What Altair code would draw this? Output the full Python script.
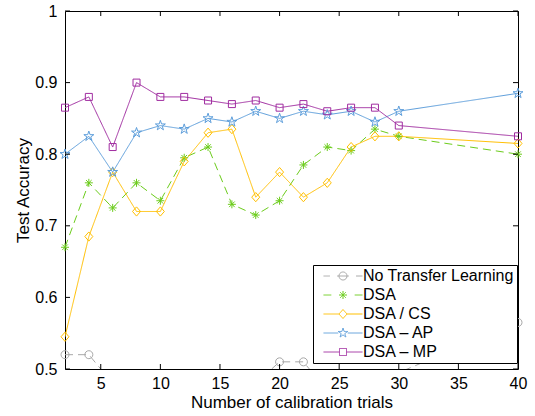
import altair as alt
import pandas as pd

# ---------------- data ----------------
trials = [2, 4, 6, 8, 10, 12, 14, 16, 18, 20, 22, 24, 26, 28, 30, 40]
no_transfer = [0.52, 0.52, 0.48, 0.46, 0.45, 0.46, 0.47, 0.47, 0.48, 0.51, 0.51, 0.47, 0.48, 0.47, 0.495, 0.565]
dsa = [0.67, 0.76, 0.725, 0.76, 0.735, 0.795, 0.81, 0.73, 0.715, 0.735, 0.785, 0.81, 0.805, 0.835, 0.825, 0.80]
dsa_cs = [0.545, 0.685, 0.775, 0.72, 0.72, 0.79, 0.83, 0.835, 0.74, 0.775, 0.74, 0.76, 0.81, 0.825, 0.825, 0.815]
dsa_ap = [0.80, 0.825, 0.775, 0.83, 0.84, 0.835, 0.85, 0.845, 0.86, 0.85, 0.86, 0.855, 0.86, 0.845, 0.86, 0.885]
dsa_mp = [0.865, 0.88, 0.81, 0.90, 0.88, 0.88, 0.875, 0.87, 0.875, 0.865, 0.87, 0.86, 0.865, 0.865, 0.84, 0.825]

series_names = ["No Transfer Learning", "DSA", "DSA / CS", "DSA \u2013 AP", "DSA \u2013 MP"]
series_values = [no_transfer, dsa, dsa_cs, dsa_ap, dsa_mp]
colors = ["#a8a8a8", "#6ccc1c", "#ffbf00", "#5d9edb", "#a02ca0"]
dashes = [[8, 5], [8, 5], [1, 0], [1, 0], [1, 0]]

x_ticks = [5, 10, 15, 20, 25, 30, 35, 40]
y_ticks = [0.5, 0.6, 0.7, 0.8, 0.9, 1.0]

# marker shapes (unit paths)
circle_p = "M1,0A1,1,0,1,1,-1,0A1,1,0,1,1,1,0Z"
aster_p = "M-1,0L1,0M0,-1L0,1M-0.7,-0.7L0.7,0.7M-0.7,0.7L0.7,-0.7"
diamond_p = "M0,-1.15L1,0L0,1.15L-1,0Z"
star_p = ("M0,-1L0.225,-0.309L0.951,-0.309L0.363,0.118L0.588,0.809L0,0.382"
          "L-0.588,0.809L-0.363,0.118L-0.951,-0.309L-0.225,-0.309Z")
square_p = "M-1,-1L1,-1L1,1L-1,1Z"
marker_paths = [circle_p, aster_p, diamond_p, star_p, square_p]
marker_sizes = [64, 64, 64, 110, 49]

# legend symbols: line segment + marker (unit = 4.5px)
L = 4.33
legend_paths = [
    f"M{-L},0L-2.9,0M-1.3,0L1.3,0M2.9,0L{L},0"
    "M0.89,0A0.89,0.89,0,1,1,-0.89,0A0.89,0.89,0,1,1,0.89,0Z",
    f"M{-L},0L-2.6,0M2.6,0L{L},0"
    "M-0.89,0L0.89,0M0,-0.89L0,0.89M-0.63,-0.63L0.63,0.63M-0.63,0.63L0.63,-0.63",
    f"M{-L},0L-0.89,0M0.89,0L{L},0M0,-1.0L0.89,0L0,1.0L-0.89,0Z",
    f"M{-L},0L-1.05,0M1.05,0L{L},0"
    "M0,-1.11L0.25,-0.343L1.056,-0.343L0.403,0.131L0.653,0.898L0,0.424"
    "L-0.653,0.898L-0.403,0.131L-1.056,-0.343L-0.25,-0.343Z",
    f"M{-L},0L-0.78,0M0.78,0L{L},0M-0.78,-0.78L0.78,-0.78L0.78,0.78L-0.78,0.78Z",
]

rows = []
for name, vals in zip(series_names, series_values):
    for t, v in zip(trials, vals):
        rows.append({"trials": t, "acc": v, "series": name})
df = pd.DataFrame(rows)

W, H = 453, 358
FONT = "Liberation Sans"

x_enc = alt.X(
    "trials:Q",
    scale=alt.Scale(domain=[2, 40], nice=False, zero=False),
    axis=alt.Axis(
        values=x_ticks, tickSize=0, domain=False, grid=False, labelFlush=False,
        labelFontSize=16, labelPadding=6, labelColor="black", labelFont=FONT,
        title="Number of calibration trials", titleFontSize=17,
        titleFontWeight="normal", titleFont=FONT, titleColor="black", titlePadding=3,
    ),
)
y_enc = alt.Y(
    "acc:Q",
    scale=alt.Scale(domain=[0.5, 1.0], nice=False, zero=False),
    axis=alt.Axis(
        values=y_ticks, tickSize=0, domain=False, grid=False, format="~g",
        labelFlush=False,
        labelFontSize=16, labelPadding=8, labelColor="black", labelFont=FONT,
        title="Test Accuracy", titleFontSize=17, titleFontWeight="normal",
        titleFont=FONT, titleColor="black", titlePadding=2,
    ),
)

# legend symbol shape chosen per entry
shape_expr = ""
for name, p in zip(series_names, legend_paths):
    shape_expr += f"datum.value === '{name}' ? '{p}' : "
shape_expr += "'circle'"

leg = alt.Legend(
    title=None, orient="none", legendX=248, legendY=254,
    fillColor="white", strokeColor="black", padding=3, cornerRadius=0,
    labelFontSize=16, labelFont=FONT, labelColor="black",
    symbolSize=81, symbolStrokeWidth=1, symbolOpacity=1,
    symbolType=alt.ExprRef(expr=shape_expr), symbolFillColor="transparent",
    symbolDash=[1, 0],
    symbolOffset=19, labelOffset=12, rowPadding=3, labelLimit=300,
)

color_scale = alt.Scale(domain=series_names, range=colors)

line_layers = []
for name, dash in zip(series_names, dashes):
    line_layers.append(
        alt.Chart(df)
        .transform_filter(alt.datum.series == name)
        .mark_line(clip=True, strokeWidth=1, strokeDash=dash)
        .encode(
            x=x_enc,
            y=y_enc,
            color=alt.Color("series:N", scale=color_scale, sort=series_names, legend=leg),
            order="trials:Q",
        )
    )

point_layers = []
for name, col, path, sz in zip(series_names, colors, marker_paths, marker_sizes):
    point_layers.append(
        alt.Chart(df)
        .transform_filter((alt.datum.series == name) & (alt.datum.acc >= 0.5))
        .mark_point(shape=path, size=sz, filled=False, strokeWidth=1, color=col, opacity=1)
        .encode(x="trials:Q", y="acc:Q")
    )

tick_x = pd.DataFrame({"t": x_ticks})
tick_y = pd.DataFrame({"v": y_ticks})
TL = 5
bx = alt.Chart(tick_x).mark_rule(color="black", strokeWidth=1).encode(
    x="t:Q", y=alt.value(H), y2=alt.value(H - TL))
tx = alt.Chart(tick_x).mark_rule(color="black", strokeWidth=1).encode(
    x="t:Q", y=alt.value(0), y2=alt.value(TL))
ly = alt.Chart(tick_y).mark_rule(color="black", strokeWidth=1).encode(
    y="v:Q", x=alt.value(0), x2=alt.value(TL))
ry = alt.Chart(tick_y).mark_rule(color="black", strokeWidth=1).encode(
    y="v:Q", x=alt.value(W - TL), x2=alt.value(W))

chart = alt.layer(
    *line_layers, *point_layers, bx, tx, ly, ry
).properties(
    width=W, height=H,
    autosize=alt.AutoSizeParams(type="none"),
    padding={"left": 65, "top": 11, "right": 17, "bottom": 47},
    background="white",
).configure_view(
    stroke="black", strokeWidth=1
).configure_axis(
    labelFont=FONT, titleFont=FONT
)

chart.save("out.html", embed_options={"renderer": "svg", "actions": False})
